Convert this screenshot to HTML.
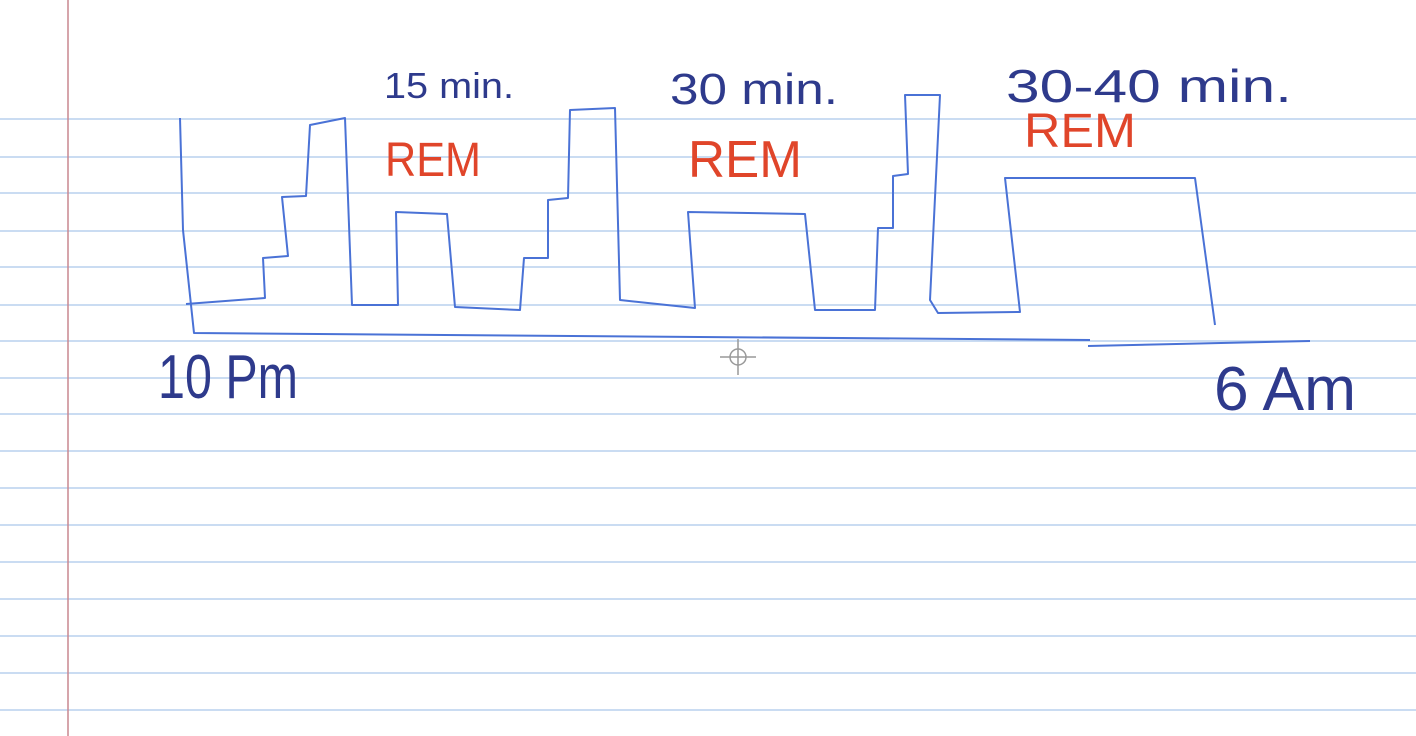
<!DOCTYPE html>
<html><head><meta charset="utf-8"><style>
html,body{margin:0;padding:0;background:#fff;width:1416px;height:736px;overflow:hidden}
svg{display:block}
text{font-family:"Liberation Sans",sans-serif;font-weight:normal}
</style></head><body>
<svg width="1416" height="736" viewBox="0 0 1416 736">
<g stroke="#b9d0ee" stroke-width="1.5">
<line x1="0" y1="119" x2="1416" y2="119"/><line x1="0" y1="157" x2="1416" y2="157"/>
<line x1="0" y1="193" x2="1416" y2="193"/><line x1="0" y1="231" x2="1416" y2="231"/>
<line x1="0" y1="267" x2="1416" y2="267"/><line x1="0" y1="305" x2="1416" y2="305"/>
<line x1="0" y1="341" x2="1416" y2="341"/><line x1="0" y1="378" x2="1416" y2="378"/>
<line x1="0" y1="414" x2="1416" y2="414"/><line x1="0" y1="451" x2="1416" y2="451"/>
<line x1="0" y1="488" x2="1416" y2="488"/><line x1="0" y1="525" x2="1416" y2="525"/>
<line x1="0" y1="562" x2="1416" y2="562"/><line x1="0" y1="599" x2="1416" y2="599"/>
<line x1="0" y1="636" x2="1416" y2="636"/><line x1="0" y1="673" x2="1416" y2="673"/>
<line x1="0" y1="710" x2="1416" y2="710"/>
</g>
<line x1="68" y1="0" x2="68" y2="736" stroke="#c9878f" stroke-width="1.5"/>
<g fill="none" stroke="#4a72d6" stroke-width="2" stroke-linejoin="round">
<path d="M180,118 L183,230 L194,333 L1090,340"/>
<path d="M1088,346 L1310,341"/>
<path d="M186,304 L265,298 L263,258 L288,256 L282,197 L306,196 L310,125 L345,118 L352,305 L398,305 L396,212 L447,214 L455,307 L520,310 L524,258 L548,258 L548,200 L568,198 L570,110 L615,108 L620,300 L695,308 L688,212 L805,214 L815,310 L875,310 L878,228 L893,228 L893,176 L908,174 L905,95 L940,95 L930,300 L938,313 L1020,312 L1005,178 L1195,178 L1215,325"/>
</g>
<g fill="#2e3a8c" font-size="40">
<text x="384" y="98" textLength="130" lengthAdjust="spacingAndGlyphs" font-size="36">15 min.</text>
<text x="670" y="104" textLength="168" lengthAdjust="spacingAndGlyphs" font-size="44">30 min.</text>
<text x="1006" y="102" textLength="286" lengthAdjust="spacingAndGlyphs" font-size="46">30-40 min.</text>
<text x="158" y="398" textLength="140" lengthAdjust="spacingAndGlyphs" font-size="62">10 Pm</text>
<text x="1214" y="410" textLength="142" lengthAdjust="spacingAndGlyphs" font-size="62">6 Am</text>
</g>
<g fill="#e0452a">
<text x="385" y="176" textLength="96" lengthAdjust="spacingAndGlyphs" font-size="48">REM</text>
<text x="688" y="177" textLength="114" lengthAdjust="spacingAndGlyphs" font-size="52">REM</text>
<text x="1024" y="147" textLength="112" lengthAdjust="spacingAndGlyphs" font-size="48">REM</text>
</g>
<g stroke="#999" fill="none" stroke-width="1.5">
<circle cx="738" cy="357" r="8"/><line x1="720" y1="357" x2="756" y2="357"/><line x1="738" y1="339" x2="738" y2="375"/>
</g>
</svg>
</body></html>
